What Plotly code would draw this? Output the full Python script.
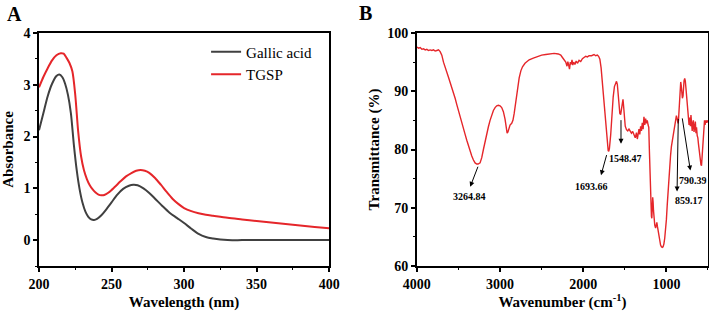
import plotly.graph_objects as go

# ---------------- Panel A: UV-Vis ----------------
wl_gallic = [200, 203, 206, 209, 212, 214, 216, 218, 220, 222, 224, 226, 228, 230, 232, 234, 236, 238,
             240, 243, 246, 250, 254, 258, 262, 265, 268, 272, 276, 280, 285, 290, 295, 300, 305, 310,
             315, 320, 325, 330, 340, 350, 360, 370, 380, 390, 400]
abs_gallic = [2.12, 2.45, 2.78, 3.02, 3.17, 3.20, 3.15, 3.02, 2.80, 2.45, 1.85, 1.35, 0.98, 0.72, 0.55, 0.45, 0.40, 0.39,
              0.41, 0.48, 0.58, 0.73, 0.88, 0.99, 1.05, 1.07, 1.06, 1.00, 0.91, 0.80, 0.66, 0.53, 0.43, 0.33, 0.22, 0.12,
              0.06, 0.03, 0.01, 0.0, 0.0, 0.0, 0.0, 0.0, 0.0, 0.0, 0.0]

wl_tgsp = [200, 203, 206, 209, 212, 215, 217, 219, 221, 223, 225, 227, 229, 231, 233, 235, 237, 239, 241, 243,
           245, 248, 252, 256, 260, 264, 267, 270, 273, 276, 280, 284, 288, 292, 296, 300, 305, 310, 315, 320,
           330, 340, 350, 360, 370, 380, 390, 400]
abs_tgsp = [2.95, 3.15, 3.32, 3.47, 3.57, 3.61, 3.60, 3.52, 3.42, 3.26, 2.80, 2.10, 1.62, 1.35, 1.18, 1.06, 0.98, 0.92, 0.88, 0.865,
            0.87, 0.92, 1.02, 1.13, 1.23, 1.30, 1.34, 1.355, 1.34, 1.30, 1.20, 1.07, 0.93, 0.80, 0.70, 0.62, 0.56, 0.52, 0.49, 0.47,
            0.43, 0.40, 0.37, 0.34, 0.31, 0.28, 0.255, 0.23]

# ---------------- Panel B: FTIR ----------------
wavenumber = [4000, 3980, 3960, 3940, 3920, 3900, 3880, 3860, 3840, 3820, 3800, 3780, 3760, 3740, 3720, 3700, 3680, 3660,
              3640, 3620, 3600, 3580, 3560, 3540, 3520, 3500, 3480, 3460, 3440, 3420, 3400, 3380, 3360, 3340, 3320, 3300,
              3280, 3264, 3240, 3220, 3200, 3180, 3160, 3140, 3120, 3100, 3080, 3060, 3040, 3020, 3000, 2980, 2960, 2940,
              2925, 2915, 2905, 2895, 2880, 2860, 2845, 2830, 2810, 2790, 2770, 2750, 2730, 2700, 2650, 2600, 2550, 2500,
              2450, 2400, 2350, 2300, 2270, 2250, 2230, 2210, 2195, 2185, 2175, 2165, 2155, 2145, 2135, 2125, 2115, 2100,
              2085, 2070, 2050, 2030, 2010, 1990, 1970, 1950, 1930, 1900, 1870, 1850, 1830, 1815, 1800, 1785, 1770, 1755,
              1740, 1725, 1710, 1700, 1693, 1685, 1670, 1655, 1640, 1625, 1610, 1600, 1590, 1580, 1570, 1560, 1550, 1540,
              1530, 1522, 1515, 1505, 1495, 1480, 1465, 1450, 1435, 1420, 1405, 1390, 1375, 1360, 1350, 1340, 1330, 1320,
              1310, 1300, 1290, 1280, 1270, 1260, 1250, 1240, 1230, 1220, 1212, 1205, 1198, 1190, 1180, 1175, 1170, 1165,
              1160, 1155, 1148, 1140, 1130, 1122, 1115, 1108, 1100, 1090, 1080, 1070, 1060, 1050, 1040, 1030, 1020, 1010,
              1000, 990, 980, 970, 960, 950, 940, 930, 920, 910, 900, 890, 880, 870, 860, 855, 848, 840, 833, 828, 822,
              815, 808, 800, 795, 788, 780, 773, 765, 758, 750, 742, 735, 728, 720, 712, 705, 698, 690, 683, 676, 668,
              660, 652, 645, 638, 630, 622, 615, 608, 600, 592, 585, 578, 572, 565, 558, 550, 542, 535, 528, 520, 512,
              505, 500]
transmittance = [97.6, 97.4, 97.5, 97.2, 97.3, 97.1, 97.2, 97.0, 97.1, 97.0, 97.1, 96.9, 97.0, 97.1, 96.8, 96.2, 95.0, 94.0,
                 93.3, 92.4, 91.5, 90.7, 89.8, 88.8, 87.7, 86.6, 85.6, 84.6, 83.5, 82.6, 81.6, 80.6, 79.7, 78.9, 78.2, 77.7,
                 77.5, 77.5, 77.7, 78.6, 80.0, 81.5, 82.8, 83.9, 85.0, 86.0, 86.7, 87.2, 87.5, 87.6, 87.5, 87.2, 86.5, 85.2,
                 83.5, 82.8, 83.0, 83.6, 84.2, 84.5, 85.0, 86.2, 88.5, 90.5, 92.3, 93.5, 94.2, 94.8, 95.4, 95.7, 96.0, 96.2,
                 96.3, 96.4, 96.5, 96.4, 96.2, 95.8, 95.4, 95.0, 94.3, 95.1, 94.5, 93.8, 95.0, 94.6, 95.4, 94.5, 95.0, 94.6,
                 95.2, 94.8, 95.3, 95.1, 95.6, 95.8, 96.0, 95.9, 96.1, 96.1, 96.3, 96.1, 96.2, 96.0, 95.5, 94.0, 91.5, 88.5,
                 85.5, 82.8, 80.5, 79.8, 79.7, 80.2, 82.5, 86.0, 89.0, 90.8, 91.6, 91.7, 91.2, 89.5, 87.5, 86.2, 86.0, 86.8,
                 88.3, 88.6, 87.5, 85.5, 84.0, 83.4, 83.2, 83.5, 83.0, 82.8, 83.1, 82.5, 82.0, 82.9, 81.8, 82.6, 83.5, 82.6,
                 84.0, 83.2, 84.6, 83.5, 85.6, 84.2, 85.3, 84.5, 85.0, 84.2, 83.8, 80.0, 75.0, 71.0, 68.5, 68.2, 70.0, 71.8,
                 71.0, 69.5, 68.0, 67.0, 66.5, 67.3, 67.5, 66.8, 66.0, 65.2, 64.3, 63.6, 63.3, 63.2, 63.3, 63.8, 64.8, 66.0,
                 68.0, 70.5, 73.0, 75.5, 77.5, 79.0, 80.5, 81.5, 82.3, 83.0, 84.0, 85.0, 85.8, 85.2, 84.5, 85.0, 87.0, 89.5,
                 91.2, 91.6, 91.0, 89.5, 88.8, 89.2, 90.8, 91.8, 92.2, 91.8, 90.5, 89.0, 88.0, 86.5, 85.0, 84.2, 85.5, 84.0,
                 85.9, 84.5, 83.2, 84.5, 85.0, 83.0, 84.0, 84.8, 82.8, 83.8, 82.4, 82.0, 81.0, 80.0, 79.0, 78.0, 77.4, 77.2,
                 78.5, 80.5, 83.0, 84.2, 85.0, 84.2, 85.0, 84.6, 85.0, 84.8, 84.9]

# peak labels with arrow tail / head / label positions (data units of panel B)
peak_labels = ["3264.84", "1693.66", "1548.47", "859.17", "790.39"]
peak_tail_wn = [3259, 1714, 1546, 857, 812]
peak_tail_T = [77.3, 79.3, 85.3, 85.5, 85.6]
peak_head_wn = [3359, 1786, 1546, 872, 712]
peak_head_T = [73.6, 75.6, 81.0, 72.8, 76.4]
peak_text_wn = [3367, 1895, 1491, 733, 682]
peak_text_T = [71.85, 73.7, 78.4, 71.3, 74.6]

RED = "#e5262a"
GRAY = "#404040"
FONT = "Liberation Serif"

W, H = 709, 315
ML, MR, MT, MB = 39, 1.3, 32.5, 49
PW = W - ML - MR
PH = H - MT - MB


def px_x(p):
    return (p - ML) / PW


def px_y(p):
    return 1 - (p - MT) / PH


fig = go.Figure()
fig.add_trace(go.Scatter(x=wl_gallic, y=abs_gallic, mode="lines", name="Gallic acid",
                         line=dict(color=GRAY, width=2, shape="spline", smoothing=0.8),
                         xaxis="x", yaxis="y"))
fig.add_trace(go.Scatter(x=wl_tgsp, y=abs_tgsp, mode="lines", name="TGSP",
                         line=dict(color=RED, width=2, shape="spline", smoothing=0.8),
                         xaxis="x", yaxis="y"))
fig.add_trace(go.Scatter(x=wavenumber, y=transmittance, mode="lines", name="FTIR", showlegend=False,
                         line=dict(color=RED, width=1.4),
                         xaxis="x2", yaxis="y2"))

tickfont = dict(family=FONT, size=14, color="black")
titlefont = dict(family=FONT, size=15, color="black")
axis_common = dict(showline=True, linecolor="black", linewidth=1.5, mirror=True,
                   ticks="outside", ticklen=4, tickwidth=1.5, tickcolor="black",
                   showgrid=False, zeroline=False, tickfont=tickfont,
                   tickprefix="<b>", ticksuffix="</b>", automargin=False)
minor_common = dict(ticks="outside", ticklen=2.5, tickwidth=1.2, tickcolor="black")

fig.update_layout(
    width=W, height=H,
    margin=dict(l=ML, r=MR, t=MT, b=MB),
    paper_bgcolor="white", plot_bgcolor="white",
    xaxis=dict(domain=[px_x(39), px_x(329)], range=[200, 400], dtick=50, tick0=200,
               minor=dict(dtick=25, **minor_common),
               title=dict(text="<b>Wavelength (nm)</b>", font=titlefont, standoff=6), anchor="y", **axis_common),
    yaxis=dict(domain=[0, 1], range=[-0.5, 4], dtick=1, tick0=0,
               minor=dict(dtick=0.5, **minor_common),
               title=dict(text="<b>Absorbance</b>", font=titlefont, standoff=8), anchor="x", **axis_common),
    xaxis2=dict(domain=[px_x(416.7), px_x(707.7)], range=[4000, 500], dtick=1000, tick0=0,
                minor=dict(dtick=500, **minor_common),
                title=dict(text="<b>Wavenumber (cm<sup>-1</sup>)</b>", font=titlefont, standoff=4),
                anchor="y2", **axis_common),
    yaxis2=dict(domain=[0, 1], range=[60, 100], dtick=10, tick0=0,
                minor=dict(dtick=5, **minor_common),
                title=dict(text="<b>Transmittance (%)</b>", font=titlefont, standoff=4), anchor="x2", **axis_common),
    legend=dict(x=px_x(206), y=px_y(35), xanchor="left", yanchor="top", bgcolor="rgba(0,0,0,0)",
                font=dict(family=FONT, size=15, color="black"), tracegroupgap=0, itemwidth=30),
    showlegend=True,
)

annotations = [
    dict(text="<b>A</b>", x=px_x(15), y=px_y(13), xref="paper", yref="paper", showarrow=False,
         xanchor="center", yanchor="middle", font=dict(family=FONT, size=20, color="black")),
    dict(text="<b>B</b>", x=px_x(365.5), y=px_y(12), xref="paper", yref="paper", showarrow=False,
         xanchor="center", yanchor="middle", font=dict(family=FONT, size=20, color="black")),
]
for i, lab in enumerate(peak_labels):
    annotations.append(dict(text="", x=peak_head_wn[i], y=peak_head_T[i], xref="x2", yref="y2",
                            ax=peak_tail_wn[i], ay=peak_tail_T[i], axref="x2", ayref="y2",
                            showarrow=True, arrowhead=2, arrowsize=1, arrowwidth=1, arrowcolor="black",
                            standoff=0, startstandoff=0))
    annotations.append(dict(text="<b>" + lab + "</b>", x=peak_text_wn[i], y=peak_text_T[i],
                            xref="x2", yref="y2", showarrow=False, xanchor="center", yanchor="middle",
                            font=dict(family=FONT, size=10, color="black")))
fig.update_layout(annotations=annotations)

# remove the default page margin so the 709x315 figure fills the window exactly
fig.write_html("out.html", config={"displayModeBar": False},
               post_script="document.body.style.margin='0';document.body.style.overflow='hidden';")
